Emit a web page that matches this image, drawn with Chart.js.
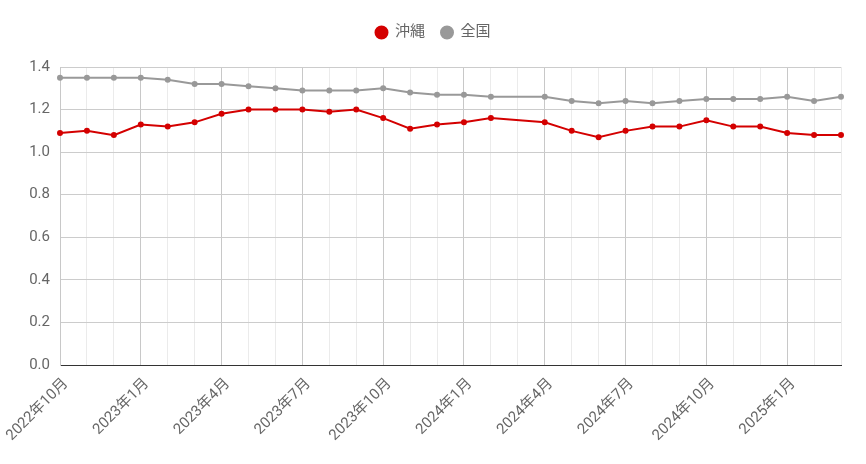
<!DOCTYPE html>
<html>
<head>
<meta charset="utf-8">
<script src="https://cdn.jsdelivr.net/npm/chart.js@4/dist/chart.umd.min.js"></script>
<style>
    html, body { margin: 0; padding: 0; background: #fff; }
    #wrap { width: 866px; height: 464px; position: relative; }
</style>
</head>
<body>
<div id="wrap"><canvas id="chart"></canvas></div>
<script>
const months = [
    '2022年10月', '2022年11月', '2022年12月',
    '2023年1月', '2023年2月', '2023年3月', '2023年4月', '2023年5月', '2023年6月',
    '2023年7月', '2023年8月', '2023年9月', '2023年10月', '2023年11月', '2023年12月',
    '2024年1月', '2024年2月', '2024年3月', '2024年4月', '2024年5月', '2024年6月',
    '2024年7月', '2024年8月', '2024年9月', '2024年10月', '2024年11月', '2024年12月',
    '2025年1月', '2025年2月', '2025年3月'
];

// 2024年3月 has no value in either series
const okinawa = [
    1.09, 1.10, 1.08,
    1.13, 1.12, 1.14, 1.18, 1.20, 1.20,
    1.20, 1.19, 1.20, 1.16, 1.11, 1.13,
    1.14, 1.16, null, 1.14, 1.10, 1.07,
    1.10, 1.12, 1.12, 1.15, 1.12, 1.12,
    1.09, 1.08, 1.08
];

const national = [
    1.35, 1.35, 1.35,
    1.35, 1.34, 1.32, 1.32, 1.31, 1.30,
    1.29, 1.29, 1.29, 1.30, 1.28, 1.27,
    1.27, 1.26, null, 1.26, 1.24, 1.23,
    1.24, 1.23, 1.24, 1.25, 1.25, 1.25,
    1.26, 1.24, 1.26
];

const yTicks = [0, 0.2, 0.4, 0.6, 0.8, 1.0, 1.2, 1.4];

// a labelled tick every quarter (1, 4, 7, 10月)
function isQuarter(i) {
    const m = parseInt(months[i].split('年')[1], 10);
    return m % 3 === 1;
}

// extra room between legend and plot
const legendGap = {
    id: 'legendGap',
    beforeInit(chart) {
        const fit = chart.legend.fit;
        chart.legend.fit = function () {
            fit.bind(chart.legend)();
            this.height += 17;
        };
    }
};

Chart.defaults.font.family = "Roboto, 'Noto Sans CJK JP', sans-serif";
Chart.defaults.font.size = 15;
Chart.defaults.color = '#666';

const ctx = document.getElementById('chart').getContext('2d');
new Chart(ctx, {
    type: 'line',
    data: {
        labels: months,
        datasets: [
            {
                label: '沖縄',
                data: okinawa,
                borderColor: '#d40000',
                backgroundColor: '#d40000',
                borderWidth: 2,
                pointRadius: 2,
                pointHoverRadius: 4,
                tension: 0,
                spanGaps: true
            },
            {
                label: '全国',
                data: national,
                borderColor: '#999999',
                backgroundColor: '#999999',
                borderWidth: 2,
                pointRadius: 2,
                pointHoverRadius: 4,
                tension: 0,
                spanGaps: true
            }
        ]
    },
    options: {
        responsive: true,
        maintainAspectRatio: false,
        animation: false,
        layout: { padding: { top: 9, right: 0, bottom: 0, left: 0 } },
        plugins: {
            legend: {
                position: 'top',
                labels: {
                    usePointStyle: true,
                    pointStyle: 'circle',
                    pointStyleWidth: 12,
                    boxWidth: 12,
                    boxHeight: 8.5,
                    padding: 16,
                    color: '#666',
                    font: { size: 15 }
                }
            },
            tooltip: { enabled: true }
        },
        scales: {
            x: {
                border: { color: '#333', width: 1 },
                grid: {
                    drawTicks: false,
                    color: c => isQuarter(c.index) ? '#c8c8c8' : '#ebebeb'
                },
                ticks: {
                    autoSkip: false,
                    maxRotation: 45,
                    minRotation: 45,
                    padding: 10,
                    labelOffset: 6,
                    color: '#666',
                    callback: (v, i) => isQuarter(i) ? months[i] : ''
                },
                afterFit: scale => {
                    scale.height = 99;
                    scale.paddingLeft = 60;
                    scale.paddingRight = 25;
                }
            },
            y: {
                min: 0,
                max: 1.4,
                border: { color: '#c8c8c8' },
                grid: { drawTicks: false, color: '#cccccc' },
                afterBuildTicks: axis => {
                    axis.ticks = yTicks.map(v => ({ value: v }));
                },
                ticks: {
                    padding: 10,
                    color: '#666',
                    callback: v => v.toFixed(1)
                }
            }
        }
    },
    plugins: [legendGap]
});
</script>
</body>
</html>
